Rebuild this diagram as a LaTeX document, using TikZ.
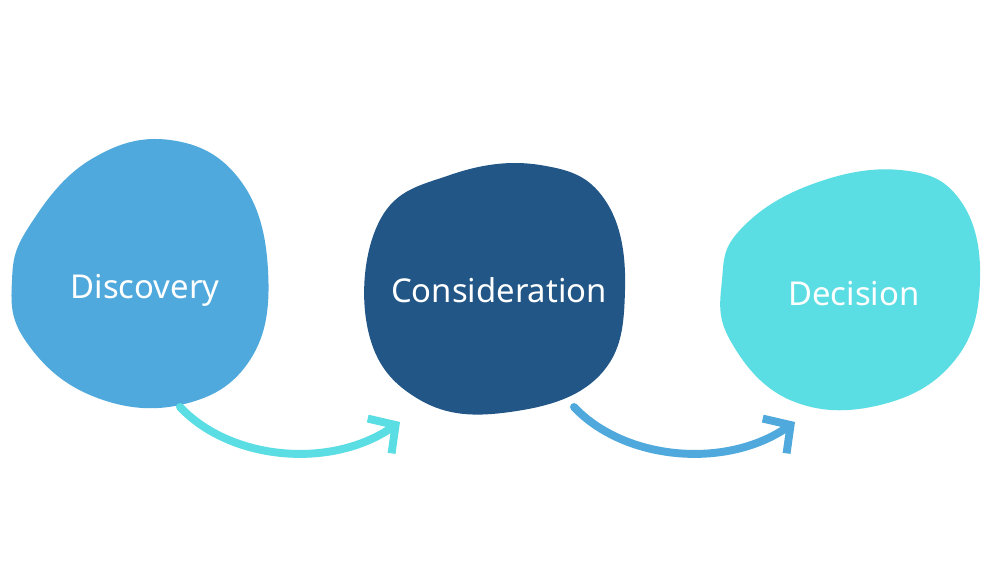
\documentclass[tikz,border=0pt]{standalone}
\usepackage{fontspec}
\setmainfont{Noto Sans}
\usetikzlibrary{arrows.meta}
\definecolor{cA}{HTML}{4FA9DC}
\definecolor{cB}{HTML}{215686}
\definecolor{cC}{HTML}{5ADDE3}
\tikzset{lbl/.style={text=white,font=\fontsize{18.7}{22}\selectfont},
 arr/.style={line width=4.5pt,line cap=round,-{Straight Barb[length=11pt,width=24pt,line width=4.5pt]}}}
\begin{document}
\begin{tikzpicture}[x=0.02cm,y=-0.02cm]
\fill[white] (0,0) rectangle (1000,563);
\fill[cA] plot[smooth cycle,tension=0.7] coordinates{(30,225) (90,160) (170,140) (240,180) (268,270) (250,360) (180,405) (90,395) (25,340) (12,280)};
\fill[cB] plot[smooth cycle,tension=0.7] coordinates{(380,220) (450,175) (540,165) (605,200) (625,290) (600,375) (510,412) (420,400) (368,330)};
\fill[cC] plot[smooth cycle,tension=0.7] coordinates{(740,230) (810,185) (900,170) (960,200) (980,280) (955,360) (880,405) (790,400) (730,340) (722,280)};
\node[lbl] (d1) at (145,290) {Discovery};
\node[lbl] (d2) at (499,290) {Consideration};
\node[lbl] (d3) at (854,294) {Decision};
\coordinate (a1s) at (180,407); \coordinate (a1e) at (400,422);
\coordinate (a2s) at (574,407); \coordinate (a2e) at (795,422);
\draw[arr,cC] (a1s) .. controls (230,460) and (330,470) .. (a1e);
\draw[arr,cA] (a2s) .. controls (624,460) and (725,470) .. (a2e);
\end{tikzpicture}
\end{document}
